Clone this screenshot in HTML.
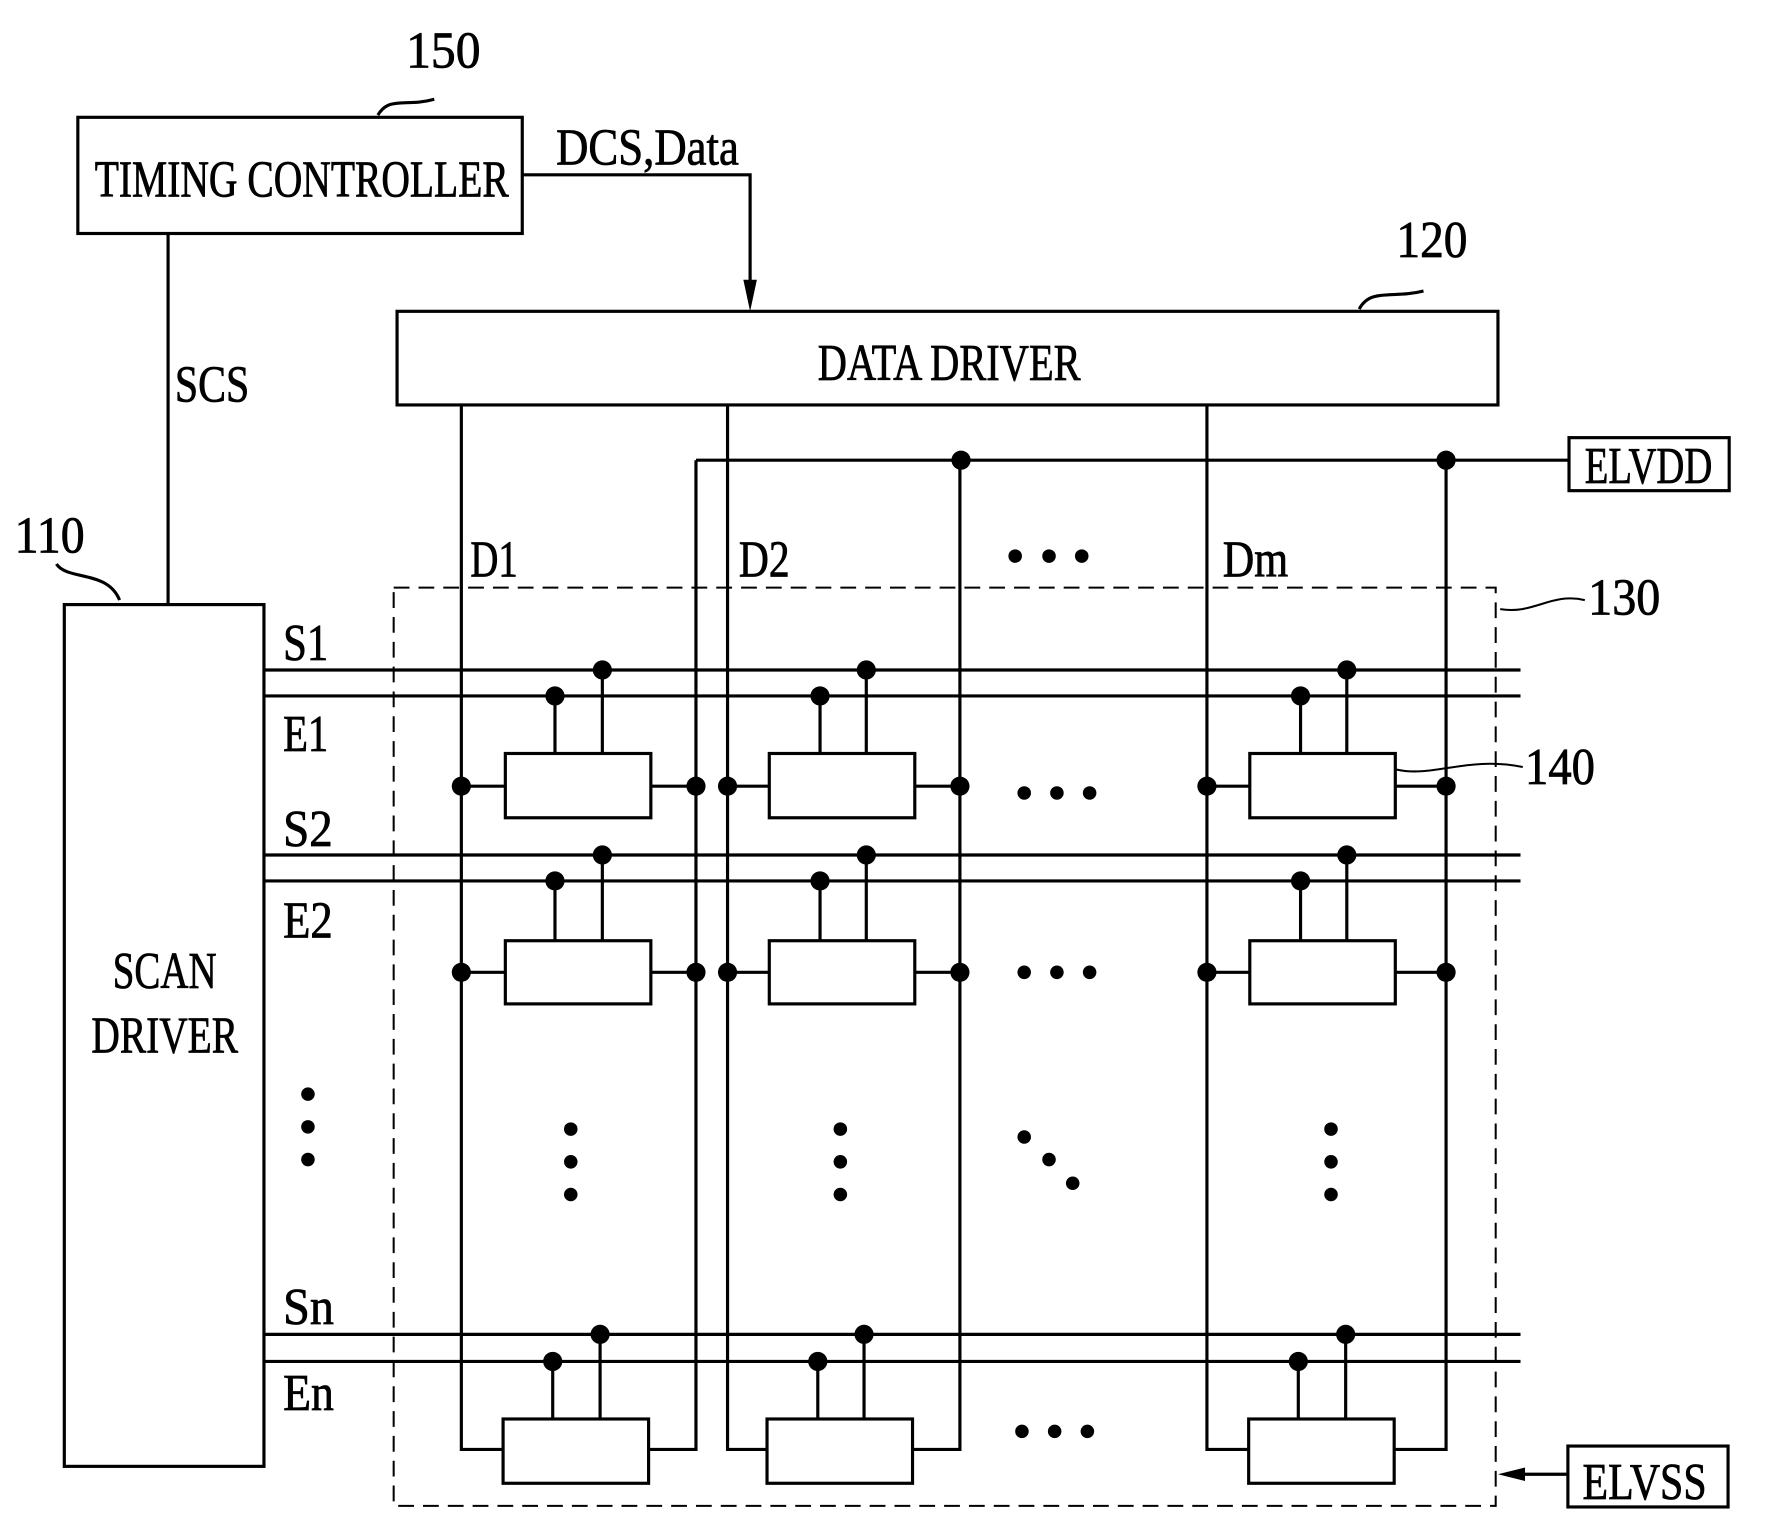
<!DOCTYPE html>
<html><head><meta charset="utf-8"><style>
html,body{margin:0;padding:0;background:#fff;}
svg{display:block;}
text{font-family:"Liberation Serif",serif;fill:#000;stroke:#000;stroke-width:0.7;}
</style></head><body>
<svg width="1768" height="1539" viewBox="0 0 1567.4 1364.4" xmlns="http://www.w3.org/2000/svg">
<g fill="none" stroke="#000" stroke-width="2.8">
<rect x="69" y="104" width="394" height="103"/>
<path d="M335,102 C345,85 360,95 385,88"/>
<path d="M463,155 H665 V268"/>
<line x1="149" y1="207" x2="149" y2="536"/>
<rect x="352" y="276" width="976" height="83"/>
<path d="M1205,274 C1215,255 1235,265 1262,258"/>
<rect x="57" y="536" width="177" height="764"/>
<path d="M50,500 C60,515 95,505 106,532"/>
<rect x="349" y="521" width="977" height="814" stroke-dasharray="14,8" stroke-width="1.8"/>
<path d="M1330,540 C1360,545 1375,525 1405,532" stroke-width="1.8"/>
<rect x="1391" y="388" width="142" height="47"/>
<line x1="617" y1="408" x2="1391" y2="408"/>
<rect x="1390" y="1282" width="142" height="54"/>
<line x1="1390" y1="1307" x2="1340" y2="1307"/>
<path d="M409,359 V1285 H446"/>
<path d="M617,408 V1285 H576"/>
<path d="M645,359 V1285 H680"/>
<path d="M851,408 V1285 H810"/>
<path d="M1070,359 V1285 H1107"/>
<path d="M1282,408 V1285 H1237"/>
<line x1="234" y1="594" x2="1348" y2="594"/>
<line x1="234" y1="617" x2="1348" y2="617"/>
<line x1="234" y1="758" x2="1348" y2="758"/>
<line x1="234" y1="781" x2="1348" y2="781"/>
<line x1="234" y1="1183" x2="1348" y2="1183"/>
<line x1="234" y1="1207" x2="1348" y2="1207"/>
<rect x="448" y="668" width="129" height="57"/>
<rect x="682" y="668" width="129" height="57"/>
<rect x="1108" y="668" width="129" height="57"/>
<rect x="448" y="834" width="129" height="56"/>
<rect x="682" y="834" width="129" height="56"/>
<rect x="1108" y="834" width="129" height="56"/>
<rect x="446" y="1258" width="129" height="57"/>
<rect x="680" y="1258" width="129" height="57"/>
<rect x="1107" y="1258" width="129" height="57"/>
<path d="M492,617V668 M534,594V668 M727,617V668 M768,594V668 M1153,617V668 M1194,594V668"/>
<path d="M492,781V834 M534,758V834 M727,781V834 M768,758V834 M1153,781V834 M1194,758V834"/>
<path d="M490,1207V1258 M532,1183V1258 M725,1207V1258 M766,1183V1258 M1151,1207V1258 M1193,1183V1258"/>
<path d="M409,697H448 M577,697H617 M645,697H682 M811,697H851 M1070,697H1108 M1237,697H1282"/>
<path d="M409,862H448 M577,862H617 M645,862H682 M811,862H851 M1070,862H1108 M1237,862H1282"/>
<path d="M1237,682 C1270,690 1300,670 1350,680" stroke-width="1.8"/>
</g>
<g fill="#000">
<polygon points="665,276 659,248 671,248"/>
<polygon points="1328,1307 1352,1301 1352,1313"/>
<g>
<circle cx="852" cy="408" r="8.5"/><circle cx="1282" cy="408" r="8.5"/>
<circle cx="534" cy="594" r="8.5"/><circle cx="492" cy="617" r="8.5"/>
<circle cx="768" cy="594" r="8.5"/><circle cx="727" cy="617" r="8.5"/>
<circle cx="1194" cy="594" r="8.5"/><circle cx="1153" cy="617" r="8.5"/>
<circle cx="534" cy="758" r="8.5"/><circle cx="492" cy="781" r="8.5"/>
<circle cx="768" cy="758" r="8.5"/><circle cx="727" cy="781" r="8.5"/>
<circle cx="1194" cy="758" r="8.5"/><circle cx="1153" cy="781" r="8.5"/>
<circle cx="532" cy="1183" r="8.5"/><circle cx="490" cy="1207" r="8.5"/>
<circle cx="766" cy="1183" r="8.5"/><circle cx="725" cy="1207" r="8.5"/>
<circle cx="1193" cy="1183" r="8.5"/><circle cx="1151" cy="1207" r="8.5"/>
<circle cx="409" cy="697" r="8.5"/><circle cx="617" cy="697" r="8.5"/><circle cx="645" cy="697" r="8.5"/><circle cx="851" cy="697" r="8.5"/><circle cx="1070" cy="697" r="8.5"/><circle cx="1282" cy="697" r="8.5"/>
<circle cx="409" cy="862" r="8.5"/><circle cx="617" cy="862" r="8.5"/><circle cx="645" cy="862" r="8.5"/><circle cx="851" cy="862" r="8.5"/><circle cx="1070" cy="862" r="8.5"/><circle cx="1282" cy="862" r="8.5"/>
</g>
<g>
<circle cx="900" cy="493" r="6"/><circle cx="930" cy="493" r="6"/><circle cx="959" cy="493" r="6"/>
<circle cx="908" cy="703" r="6"/><circle cx="937" cy="703" r="6"/><circle cx="966" cy="703" r="6"/>
<circle cx="908" cy="862" r="6"/><circle cx="937" cy="862" r="6"/><circle cx="966" cy="862" r="6"/>
<circle cx="906" cy="1269" r="6"/><circle cx="935" cy="1269" r="6"/><circle cx="964" cy="1269" r="6"/>
<circle cx="273" cy="970" r="6"/><circle cx="273" cy="999" r="6"/><circle cx="273" cy="1028" r="6"/>
<circle cx="506" cy="1001" r="6"/><circle cx="506" cy="1030" r="6"/><circle cx="506" cy="1059" r="6"/>
<circle cx="745" cy="1001" r="6"/><circle cx="745" cy="1030" r="6"/><circle cx="745" cy="1059" r="6"/>
<circle cx="1180" cy="1001" r="6"/><circle cx="1180" cy="1030" r="6"/><circle cx="1180" cy="1059" r="6"/>
<circle cx="908" cy="1008" r="6"/><circle cx="930" cy="1028" r="6"/><circle cx="951" cy="1049" r="6"/>
</g>
</g>
<g font-size="46">
<text x="84" y="174" textLength="367" lengthAdjust="spacingAndGlyphs">TIMING CONTROLLER</text>
<text x="493" y="146" textLength="162" lengthAdjust="spacingAndGlyphs">DCS,Data</text>
<text x="360" y="60" textLength="66" lengthAdjust="spacingAndGlyphs">150</text>
<text x="1238" y="228" textLength="63" lengthAdjust="spacingAndGlyphs">120</text>
<text x="13" y="490" textLength="62" lengthAdjust="spacingAndGlyphs">110</text>
<text x="1408" y="545" textLength="64" lengthAdjust="spacingAndGlyphs">130</text>
<text x="1352" y="695" textLength="62" lengthAdjust="spacingAndGlyphs">140</text>
<text x="725" y="337" textLength="233" lengthAdjust="spacingAndGlyphs">DATA DRIVER</text>
<text x="155" y="356" textLength="66" lengthAdjust="spacingAndGlyphs">SCS</text>
<text x="100" y="876" textLength="92" lengthAdjust="spacingAndGlyphs">SCAN</text>
<text x="81" y="933" textLength="130" lengthAdjust="spacingAndGlyphs">DRIVER</text>
<text x="1405" y="428" textLength="113" lengthAdjust="spacingAndGlyphs">ELVDD</text>
<text x="1403" y="1329" textLength="110" lengthAdjust="spacingAndGlyphs">ELVSS</text>
<text x="417" y="511" textLength="42" lengthAdjust="spacingAndGlyphs">D1</text>
<text x="655" y="511" textLength="45" lengthAdjust="spacingAndGlyphs">D2</text>
<text x="1084" y="511" textLength="58" lengthAdjust="spacingAndGlyphs">Dm</text>
<text x="251" y="585" textLength="40" lengthAdjust="spacingAndGlyphs">S1</text>
<text x="251" y="666" textLength="40" lengthAdjust="spacingAndGlyphs">E1</text>
<text x="251" y="750" textLength="44" lengthAdjust="spacingAndGlyphs">S2</text>
<text x="251" y="831" textLength="44" lengthAdjust="spacingAndGlyphs">E2</text>
<text x="251" y="1174" textLength="45" lengthAdjust="spacingAndGlyphs">Sn</text>
<text x="251" y="1250" textLength="45" lengthAdjust="spacingAndGlyphs">En</text>
</g>
</svg>
</body></html>
